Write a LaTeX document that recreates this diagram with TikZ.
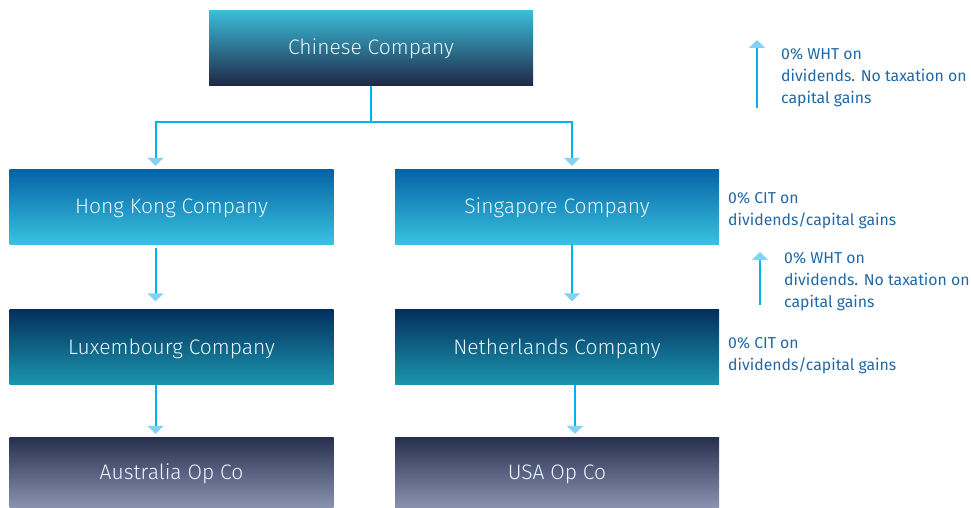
\documentclass[tikz,border=0pt]{standalone}
\usepackage{fontspec}
\setmainfont{Fira Sans}[UprightFont=* Light]
\newfontfamily\notefont{Fira Sans}
\usetikzlibrary{arrows.meta}
\definecolor{linkblue}{HTML}{00B2EE}
\definecolor{tipblue}{HTML}{80D3F7}
\definecolor{notetext}{HTML}{2068A6}
\definecolor{parenttop}{HTML}{3BBDD9}
\definecolor{parentbot}{HTML}{1F2846}
\definecolor{hubtop}{HTML}{0562A6}
\definecolor{hubbot}{HTML}{38C2DE}
\definecolor{conduittop}{HTML}{04305C}
\definecolor{conduitbot}{HTML}{1B95AE}
\definecolor{opcotop}{HTML}{272F4F}
\definecolor{opcobot}{HTML}{8A93B1}

\begin{document}
\begin{tikzpicture}[x=1pt,y=-1pt,
    company/.style={minimum width=324pt,minimum height=75pt,inner sep=0pt,
      text=white!90!cyan,font=\fontsize{21}{25}\selectfont,
      text height=14pt,text depth=0pt},
    parent/.style={company,top color=parenttop,bottom color=parentbot},
    hub/.style={company,top color=hubtop,bottom color=hubbot},
    conduit/.style={company,top color=conduittop,bottom color=conduitbot},
    opco/.style={company,minimum height=71pt,top color=opcotop,bottom color=opcobot},
    link/.style={draw=linkblue,line width=2pt,-{Triangle[width=16pt,length=8pt,color=tipblue]}},
    note/.style={text=notetext,align=left,anchor=north west,inner sep=0pt,
      font=\notefont\fontsize{15.8}{22}\selectfont}]
    \useasboundingbox (0,0) rectangle (971,508);

    % companies
    \node[parent] (chinese) at (371,48) {Chinese Company};
    \node[hub] (hongkong) at (171.5,206.5) {Hong Kong Company};
    \node[hub] (singapore) at (557,206.5) {Singapore Company};
    \node[conduit] (luxembourg) at (171.5,347) {Luxembourg Company};
    \node[conduit] (netherlands) at (557,347) {Netherlands Company};
    \node[opco] (australia) at (171.5,472.5) {Australia Op Co};
    \node[opco] (usa) at (557,472.5) {USA Op Co};

    % ownership
    \draw[link] (chinese.south) -- ++(0,36) -| ([xshift=-16pt,yshift=3pt]hongkong.north);
    \draw[link] (chinese.south) -- ++(0,36) -| ([xshift=15pt,yshift=3pt]singapore.north);
    \draw[link] ([xshift=-16pt,yshift=-4pt]hongkong.south) -- ([xshift=-16pt,yshift=8pt]luxembourg.north);
    \draw[link] ([xshift=-16pt]luxembourg.south) -- ([xshift=-16pt,yshift=3pt]australia.north);
    \draw[link] ([xshift=15pt]singapore.south) -- ([xshift=15pt,yshift=8pt]netherlands.north);
    \draw[link] ([xshift=18pt]netherlands.south) -- ([xshift=18pt,yshift=3pt]usa.north);

    % tax notes
    \coordinate (up1 foot) at (757,108);
    \coordinate (up1 tip) at (757,40);
    \draw[link] (up1 foot) -- (up1 tip);
    \node[note] (wht1) at (781,48) {0\% WHT on\\dividends. No taxation on\\capital gains};
    \node[note] (cit1) at (728,192) {0\% CIT on\\dividends/capital gains};
    \coordinate (up2 foot) at (760,305);
    \coordinate (up2 tip) at (760,252);
    \draw[link] (up2 foot) -- (up2 tip);
    \node[note] (wht2) at (784,252) {0\% WHT on\\dividends. No taxation on\\capital gains};
    \node[note] (cit2) at (728,337) {0\% CIT on\\dividends/capital gains};
\end{tikzpicture}
\end{document}
